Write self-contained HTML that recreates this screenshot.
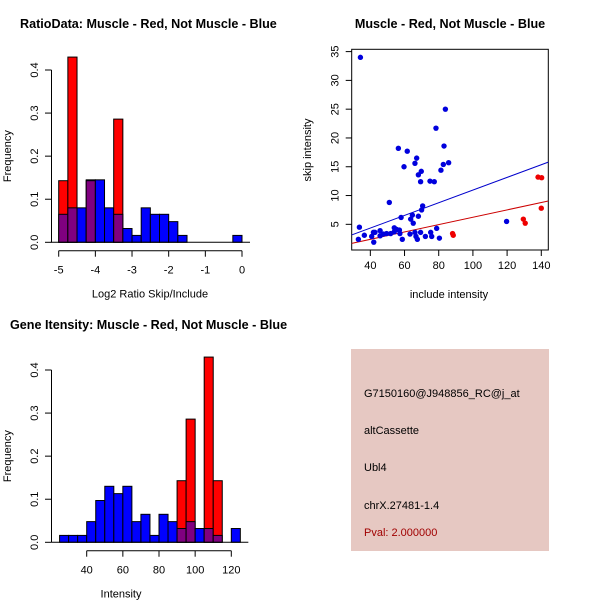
<!DOCTYPE html>
<html><head><meta charset="utf-8"><style>
body{margin:0;background:#fff}
svg{display:block;font-family:"Liberation Sans",sans-serif}
</style></head><body>
<svg id="c" width="600" height="600" viewBox="0 0 600 600" xmlns="http://www.w3.org/2000/svg">
<rect width="600" height="600" fill="#fff"/>
<text x="20" y="28" font-size="12.6" font-weight="bold">RatioData: Muscle - Red, Not Muscle - Blue</text>
<text x="450" y="28" font-size="12.6" font-weight="bold" text-anchor="middle">Muscle - Red, Not Muscle - Blue</text>
<text x="10" y="329" font-size="12.6" font-weight="bold">Gene Itensity: Muscle - Red, Not Muscle - Blue</text>
<g id="h1"></g>
<g id="sc"></g>
<g id="h2"></g>
<g>
<rect x="351" y="349" width="198" height="202" fill="#e6c8c2"/>
<text x="364" y="397" font-size="11">G7150160@J948856_RC@j_at</text>
<text x="364" y="434" font-size="11">altCassette</text>
<text x="364" y="471" font-size="11">Ubl4</text>
<text x="364" y="509" font-size="11">chrX.27481-1.4</text>
<text x="364" y="536" font-size="11" fill="#a00000">Pval: 2.000000</text>
</g>
</svg>
<script>
// Ratio histogram data
const ratioBinStart = -5;
const ratioBinWidth = 0.25;
const ratioBlue = [0.065,0.08,0.08,0.145,0.145,0.08,0.065,0.032,0.016,0.08,0.065,0.065,0.048,0.016,0,0,0,0,0,0.016];
const ratioRed = [0.143,0.43,0,0.143,0,0,0.286,0,0,0,0,0,0,0,0,0,0,0,0,0];
const ratioXTicks = [-5,-4,-3,-2,-1,0];
const freqTicks = ["0.0","0.1","0.2","0.3","0.4"];
// Intensity histogram data
const intBinStart = 25;
const intBinWidth = 5;
const intBlue = [0.016,0.016,0.016,0.048,0.097,0.13,0.113,0.13,0.048,0.065,0.016,0.065,0.048,0.032,0.048,0.032,0.032,0.016,0,0.032];
const intRed = [0,0,0,0,0,0,0,0,0,0,0,0,0,0.143,0.286,0,0.43,0.143,0,0];
const intXTicks = [40,60,80,100,120];
// Scatter data
const blueX = [34.2,33.6,33,36.5,40.8,41.8,42,42.7,45.7,45.7,47.6,49.5,51.1,51.9,54,54,55.4,56.4,57,58,58.7,57.3,59.7,61.6,63.2,63.6,64.6,65.1,66.1,66.1,67.1,66.7,67.5,68.1,68.1,69.4,69.8,69.4,70,70.6,72.2,74.9,75.3,75.9,77.4,78.4,78.8,80.4,81.3,82.7,83.1,83.9,85.8,119.7];
const blueY = [34,4.5,2.4,3.1,2.9,3.6,1.9,3.6,3.9,3.0,3.3,3.4,8.8,3.4,4.4,3.7,4.1,18.2,4.0,6.2,2.4,3.4,15,17.7,3.3,5.9,6.6,5.2,15.6,3.6,16.5,2.9,2.4,13.6,6.4,12.4,14.2,3.6,7.5,8.2,2.9,12.5,3.6,2.9,12.4,21.7,4.3,2.6,14.4,15.4,18.6,25,15.7,5.5];
const redX = [88.1,88.5,129.5,130.6,138.1,140.2,140];
const redY = [3.4,3.1,5.9,5.2,13.2,13.1,7.8];
const blueFit = [-0.05,0.11];
const redFit = [-0.16,0.0639];
const scXTicks = [40,60,80,100,120,140];
const scYTicks = [5,10,15,20,25,30,35];

const NS="http://www.w3.org/2000/svg";
function mk(parent,tag,attrs){const e=document.createElementNS(NS,tag);for(const k in attrs)e.setAttribute(k,attrs[k]);parent.appendChild(e);return e;}

function hist(g,start,w,blue,red,sx,sy,y0,xt,xAxisY,xTitle,ox){
  for(let i=0;i<blue.length;i++){
    const b=blue[i],r=red[i];
    const x1=sx(start+i*w),x2=sx(start+(i+1)*w);
    const hi=Math.max(b,r),lo=Math.min(b,r);
    if(hi>0){
      const e=mk(g,'rect',{x:x1,y:sy(hi),width:x2-x1,height:sy(0)-sy(hi),fill:r>b?'#ff0000':'#0000ff',stroke:'#000','stroke-width':1});
      
      
    }
    if(lo>0){
      const e=mk(g,'rect',{x:x1,y:sy(lo),width:x2-x1,height:sy(0)-sy(lo),fill:'#800080',stroke:'#000','stroke-width':1});
      
      
    }
  }
  mk(g,'line',{x1:sx(start)-8,x2:sx(start+blue.length*w)+8,y1:sy(0),y2:sy(0),stroke:'#000'});
  const yax=mk(g,'g',{});
  
  
  mk(yax,'line',{x1:51.5,x2:51.5,y1:sy(0),y2:sy(0.4),stroke:'#000'});
  freqTicks.forEach(t=>{const v=parseFloat(t);const y=sy(v);
    mk(yax,'line',{x1:45,x2:51.5,y1:y,y2:y,stroke:'#000'});
    const tx=mk(yax,'text',{x:38,y:y,'font-size':11,'text-anchor':'middle',transform:`rotate(-90 38 ${y})`});tx.textContent=t;});
  const yl=mk(yax,'text',{x:11,y:sy(0.2),'font-size':11,'text-anchor':'middle',transform:`rotate(-90 11 ${sy(0.2)})`});yl.textContent='Frequency';
  
  
  const xax=mk(g,'g',{});
  
  
  mk(xax,'line',{x1:sx(xt[0]),x2:sx(xt[xt.length-1]),y1:xAxisY,y2:xAxisY,stroke:'#000'});
  xt.forEach(t=>{const x=sx(t);mk(xax,'line',{x1:x,x2:x,y1:xAxisY,y2:xAxisY+6,stroke:'#000'});
    const tx=mk(xax,'text',{x:x,y:xAxisY+23,'font-size':11,'text-anchor':'middle'});tx.textContent=t;});
  const xl=mk(xax,'text',{x:ox,y:xAxisY+47,'font-size':11,'text-anchor':'middle'});xl.textContent=xTitle;
  
  
}
const h1=document.getElementById('h1');
hist(h1,ratioBinStart,ratioBinWidth,ratioBlue,ratioRed,v=>58.7+(v+5)*36.66,v=>242.3-v*430.75,0,ratioXTicks,250.7,'Log2 Ratio Skip/Include',150);
const h2=document.getElementById('h2');
hist(h2,intBinStart,intBinWidth,intBlue,intRed,v=>86.7+(v-40)*1.8075,v=>542.3-v*430.75,0,intXTicks,550.7,'Intensity',121);

const sc=document.getElementById('sc');
const X0=29.1,X1=144.1,Y0=0.54,Y1=35.4,L=351.7,R=548.3,T=49.3,B=250;
const sx=v=>L+(v-X0)/(X1-X0)*(R-L), sy=v=>B-(v-Y0)/(Y1-Y0)*(B-T);
mk(sc,'rect',{x:L,y:T,width:R-L,height:B-T,fill:'none',stroke:'#000'});
const cp=mk(sc,'clipPath',{id:'cp'});mk(cp,'rect',{x:L,y:T,width:R-L,height:B-T});
const cg=mk(sc,'g',{'clip-path':'url(#cp)'});
[[blueFit,'#0000cc','fit-line-blue'],[redFit,'#cc0000','fit-line-red']].forEach(([f,c,n])=>{
  const e=mk(cg,'line',{x1:sx(X0),y1:sy(f[0]+f[1]*X0),x2:sx(X1),y2:sy(f[0]+f[1]*X1),stroke:c,'stroke-width':1});
  
  
});
blueX.forEach((x,i)=>{const e=mk(sc,'circle',{cx:sx(x),cy:sy(blueY[i]),r:2.7,fill:'#0000dd'});
  
  });
redX.forEach((x,i)=>{const e=mk(sc,'circle',{cx:sx(x),cy:sy(redY[i]),r:2.7,fill:'#ee0000'});
  
  });
scXTicks.forEach(t=>{const x=sx(t);mk(sc,'line',{x1:x,x2:x,y1:B,y2:B+6,stroke:'#000'});
  const tx=mk(sc,'text',{x:x,y:B+19,'font-size':11,'text-anchor':'middle'});tx.textContent=t;});
scYTicks.forEach(t=>{const y=sy(t);mk(sc,'line',{x1:L-6,x2:L,y1:y,y2:y,stroke:'#000'});
  const tx=mk(sc,'text',{x:L-13,y:y,'font-size':11,'text-anchor':'middle',transform:`rotate(-90 ${L-13} ${y})`});tx.textContent=t;});
const xl=mk(sc,'text',{x:449,y:298,'font-size':11,'text-anchor':'middle'});xl.textContent='include intensity';


const yl=mk(sc,'text',{x:311,y:150,'font-size':11,'text-anchor':'middle',transform:'rotate(-90 311 150)'});yl.textContent='skip intensity';


</script>
</body></html>
